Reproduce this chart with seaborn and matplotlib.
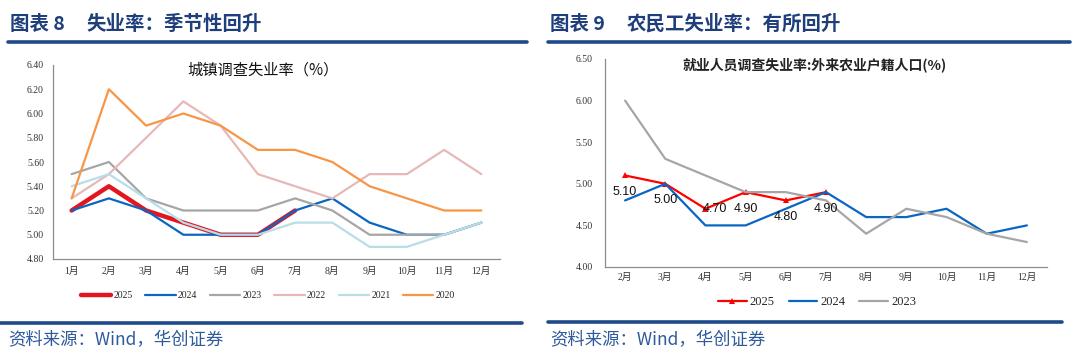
import pandas as pd
import matplotlib
matplotlib.use("Agg")
import matplotlib.pyplot as plt
import seaborn as sns

# 数据：城镇调查失业率（%）
months_a = ["1月", "2月", "3月", "4月", "5月", "6月", "7月", "8月", "9月", "10月", "11月", "12月"]
years_a = ["2025", "2024", "2023", "2022", "2021", "2020"]
u2025 = [5.2, 5.4, 5.2, 5.1, 5.0, 5.0, 5.2]
u2024 = [5.2, 5.3, 5.2, 5.0, 5.0, 5.0, 5.2, 5.3, 5.1, 5.0, 5.0, 5.1]
u2023 = [5.5, 5.6, 5.3, 5.2, 5.2, 5.2, 5.3, 5.2, 5.0, 5.0, 5.0, 5.1]
u2022 = [5.3, 5.5, 5.8, 6.1, 5.9, 5.5, 5.4, 5.3, 5.5, 5.5, 5.7, 5.5]
u2021 = [5.4, 5.5, 5.3, 5.1, 5.0, 5.0, 5.1, 5.1, 4.9, 4.9, 5.0, 5.1]
u2020 = [5.3, 6.2, 5.9, 6.0, 5.9, 5.7, 5.7, 5.6, 5.4, 5.3, 5.2, 5.2]

# 数据：外来农业户籍人口失业率（%）
months_b = ["2月", "3月", "4月", "5月", "6月", "7月", "8月", "9月", "10月", "11月", "12月"]
years_b = ["2025", "2024", "2023"]
m2025 = [5.1, 5.0, 4.7, 4.9, 4.8, 4.9]
m2024 = [4.8, 5.0, 4.5, 4.5, 4.7, 4.9, 4.6, 4.6, 4.7, 4.4, 4.5]
m2023 = [6.0, 5.3, 5.1, 4.9, 4.9, 4.8, 4.4, 4.7, 4.6, 4.4, 4.3]


def long_df(series, years, months):
    rows = []
    for y, vals in zip(years, series):
        for i, v in enumerate(vals):
            rows.append({"年": y, "月": months[i], "x": i, "值": v})
    return pd.DataFrame(rows)


df_a = long_df([u2025, u2024, u2023, u2022, u2021, u2020], years_a, months_a)
df_b = long_df([m2025, m2024, m2023], years_b, months_b)

sns.set_style("white")
plt.rcParams["font.family"] = ["Liberation Serif", "Noto Sans CJK SC", "DejaVu Sans"]
CJK = ["Noto Sans CJK SC", "DejaVu Sans"]
NAVY = "#1F3E7C"
SRC = "#2E5A9C"

fig = plt.figure(figsize=(10.8, 3.62), dpi=100)

# 标题与分隔线
fig.text(10 / 1080, 1 - 24 / 362, "图表 8", family=CJK, fontsize=14, weight="bold", color=NAVY, va="center")
fig.text(86 / 1080, 1 - 24 / 362, "失业率：季节性回升", family=CJK, fontsize=14, weight="bold", color=NAVY, va="center")
fig.text(550 / 1080, 1 - 24 / 362, "图表 9", family=CJK, fontsize=14, weight="bold", color=NAVY, va="center")
fig.text(627 / 1080, 1 - 24 / 362, "农民工失业率：有所回升", family=CJK, fontsize=14, weight="bold", color=NAVY, va="center")
for x0, x1, y in [(8, 527, 42), (548, 1070, 42), (0, 522, 323), (548, 1062, 322)]:
    fig.lines.append(plt.Line2D([x0 / 1080, x1 / 1080], [1 - y / 362, 1 - y / 362],
                                transform=fig.transFigure, color="#1F4A8A", linewidth=2.6))
fig.text(8 / 1080, 1 - 340 / 362, "资料来源：Wind，华创证券", family=CJK, fontsize=12.5,
         style="italic", color=SRC, va="center")
fig.text(550 / 1080, 1 - 340 / 362, "资料来源：Wind，华创证券", family=CJK, fontsize=12.5,
         style="italic", color=SRC, va="center")


def style_axis(ax, n, ylim, yticks, ypad, xpad):
    for s in ["top", "right"]:
        ax.spines[s].set_visible(False)
    for s in ["left", "bottom"]:
        ax.spines[s].set_color("#8C8C8C")
        ax.spines[s].set_linewidth(0.9)
    ax.set_xlim(-0.5, n - 0.5)
    ax.set_ylim(*ylim)
    ax.set_yticks(yticks)
    ax.set_yticklabels([f"{t:.2f}" for t in yticks])
    ax.set_xticks(range(n))
    ax.set_xticks([i - 0.5 for i in range(n + 1)], minor=True)
    ax.tick_params(axis="x", which="major", length=0, pad=xpad, labelsize=7, colors="#333333")
    ax.tick_params(axis="x", which="minor", length=3, width=0.8, color="#8C8C8C", direction="out")
    ax.tick_params(axis="y", length=3, width=0.8, color="#8C8C8C", direction="out",
                   pad=ypad, labelsize=7, labelcolor="#333333")
    ax.set_xlabel("")
    ax.set_ylabel("")
    ax.grid(False)


# 左图
ax1 = fig.add_axes([53 / 1080, 1 - 259 / 362, 447 / 1080, 194 / 362])
colors_a = {"2025": "#E3161F", "2024": "#0A66C2", "2023": "#A6A6A6",
            "2022": "#E6B9B8", "2021": "#B7DEE8", "2020": "#F79646"}
widths_a = {"2025": 3.2, "2024": 1.6, "2023": 1.6, "2022": 1.6, "2021": 1.6, "2020": 1.6}
for y in years_a:
    sns.lineplot(data=df_a[df_a["年"] == y], x="x", y="值", color=colors_a[y],
                 linewidth=widths_a[y], label=y, ax=ax1, sort=False)
style_axis(ax1, len(months_a), (4.8, 6.4), [4.8 + 0.2 * i for i in range(9)], 3.5, 6)
ax1.set_xticklabels(months_a)
ax1.text(0.47, 0.975, "城镇调查失业率（%）", transform=ax1.transAxes, family=CJK,
         fontsize=11, ha="center", va="center", color="#111111")
ax1.legend(loc="center", bbox_to_anchor=(268 / 1080, 1 - 296 / 362), bbox_transform=fig.transFigure,
           ncol=6, frameon=False, fontsize=7, handlelength=3.1, handletextpad=0.25, columnspacing=1.3)

# 右图
ax2 = fig.add_axes([605 / 1080, 1 - 267 / 362, 442 / 1080, 208 / 362])
colors_b = {"2025": "#FF0000", "2024": "#0A66C2", "2023": "#A6A6A6"}
for y in years_b:
    sub = df_b[df_b["年"] == y]
    if y == "2025":
        sns.lineplot(data=sub, x="x", y="值", color=colors_b[y], linewidth=1.6, marker="^",
                     markersize=5, markeredgewidth=0, label=y, ax=ax2, sort=False)
    else:
        sns.lineplot(data=sub, x="x", y="值", color=colors_b[y], linewidth=1.6,
                     label=y, ax=ax2, sort=False)
style_axis(ax2, len(months_b), (4.0, 6.5), [4.0 + 0.5 * i for i in range(6)], 6, 4)
ax2.set_xticklabels(months_b)
ax2.text(0.475, 0.97, "就业人员调查失业率:外来农业户籍人口(%)", transform=ax2.transAxes, family=CJK,
         fontsize=10, weight="bold", ha="center", va="center", color="#222222")
offsets = [(0, -12), (0, -12), (7, 0), (0, -12), (0, -12), (0, -12)]
for i, v in enumerate(m2025):
    ax2.annotate(f"{v:.2f}", (i, v), xytext=offsets[i], textcoords="offset points",
                 ha="center", va="center", fontsize=9, family="Liberation Sans", color="#111111")
ax2.legend(loc="center", bbox_to_anchor=(817 / 1080, 1 - 302 / 362), bbox_transform=fig.transFigure,
           ncol=3, frameon=False, fontsize=9, handlelength=2.3, handletextpad=0.25, columnspacing=1.1)

fig.savefig("out.png", dpi=100)
